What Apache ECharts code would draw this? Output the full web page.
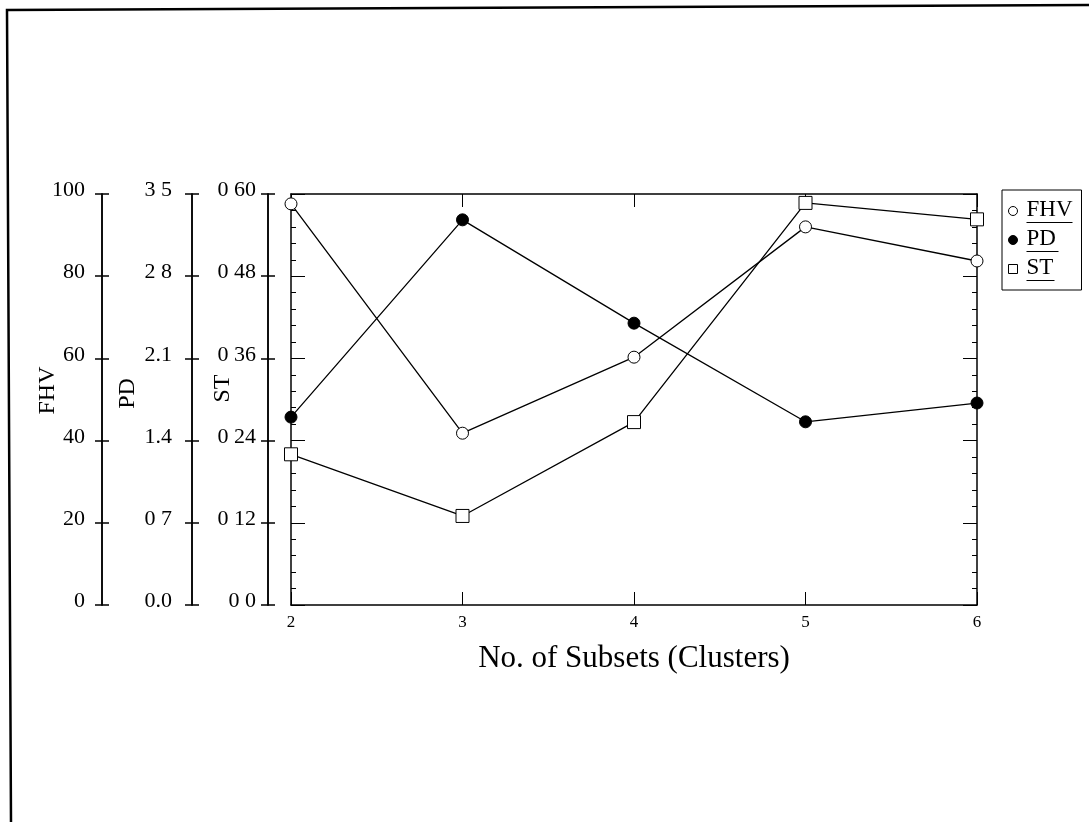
<!DOCTYPE html>
<html>
<head>
<meta charset="utf-8">
<script src="https://cdn.jsdelivr.net/npm/echarts@6/dist/echarts.min.js"></script>
<style>
html,body{margin:0;padding:0;background:#fff;}
#c{width:1089px;height:822px;}
</style>
</head>
<body>
<div id="c"></div>
<script>
// ---- data ----
var xValues = [2, 3, 4, 5, 6];
var fhv = [97.6, 41.8, 60.3, 92.0, 83.7];
var pd = [1.60, 3.28, 2.40, 1.56, 1.72];
var st = [0.220, 0.130, 0.267, 0.587, 0.563];
var fhvTicks = ['0', '20', '40', '60', '80', '100'];
var pdTicks = ['0.0', '0 7', '1.4', '2.1', '2 8', '3 5'];
var stTicks = ['0 0', '0 12', '0 24', '0 36', '0 48', '0 60'];
var xTicks = ['2', '3', '4', '5', '6'];

var FONT = 'Liberation Serif';
var BLACK = '#000';

function pairs(vals) { return xValues.map(function (x, i) { return [x, vals[i]]; }); }

function leftAxis(offset, min, max, interval, ticks, name, nameGap, labelMargin, inside, nameShift) {
  var ax = {
    type: 'value', position: 'left', offset: offset,
    min: min, max: max, interval: interval,
    gridIndex: 0,
    splitLine: { show: false },
    axisLine: { show: true, lineStyle: { color: BLACK, width: 1.5 } },
    axisTick: { show: true, inside: inside, length: 7, lineStyle: { color: BLACK, width: 1.5 } },
    axisLabel: { show: false }
  };
  if (!inside) {
    ax.name = name;
    ax.nameLocation = 'middle';
    ax.nameGap = nameGap;
    ax.nameRotate = 90;
    ax.nameMoveOverlap = false;
    ax.nameTextStyle = { fontFamily: FONT, fontSize: 24, color: BLACK, padding: [0, 0, 0, nameShift] };
    ax.axisLabel = {
      show: true, margin: labelMargin,
      fontFamily: FONT, fontSize: 22, color: BLACK,
      verticalAlign: 'bottom', lineHeight: 7,
      formatter: function (v) {
        var k = Math.round((v - min) / interval);
        return ticks[k];
      }
    };
  }
  return ax;
}

function frameAxis(pos) {
  return {
    type: 'value', position: pos, offset: 0,
    min: 0, max: 100, interval: 20, splitNumber: 5,
    splitLine: { show: false },
    axisLine: { show: true, lineStyle: { color: BLACK, width: 1.5 } },
    axisTick: { show: true, inside: true, length: 14, lineStyle: { color: BLACK, width: 1 } },
    minorTick: { show: true, splitNumber: 5, length: 5, lineStyle: { color: BLACK, width: 1 } },
    axisLabel: { show: false }
  };
}

var underlineW = { FHV: 46, PD: 32, ST: 28 };

var chart = echarts.init(document.getElementById('c'), null, { renderer: 'canvas' });
chart.setOption({
  backgroundColor: '#fff',
  animation: false,
  textStyle: { fontFamily: FONT },
  grid: { left: 291, right: 112, top: 194, bottom: 217, containLabel: false, outerBoundsMode: 'none' },
  xAxis: [
    {
      type: 'value', position: 'bottom', min: 2, max: 6, interval: 1,
      splitLine: { show: false },
      axisLine: { show: true, onZero: false, lineStyle: { color: BLACK, width: 1.5 } },
      axisTick: { show: true, inside: true, length: 13, lineStyle: { color: BLACK, width: 1 } },
      axisLabel: {
        show: true, margin: 9, fontFamily: FONT, fontSize: 17, color: BLACK,
        formatter: function (v) { return xTicks[xValues.indexOf(v)]; }
      },
      name: 'No. of Subsets (Clusters)', nameLocation: 'middle', nameGap: 38,
      nameTextStyle: { fontFamily: FONT, fontSize: 31, color: BLACK }
    },
    {
      type: 'value', position: 'top', min: 2, max: 6, interval: 1,
      splitLine: { show: false },
      axisLine: { show: true, onZero: false, lineStyle: { color: BLACK, width: 1.5 } },
      axisTick: { show: true, inside: true, length: 13, lineStyle: { color: BLACK, width: 1 } },
      axisLabel: { show: false }
    }
  ],
  yAxis: [
    leftAxis(189, 0, 100, 20, fhvTicks, 'FHV', 42, 17, false, 18),
    leftAxis(189, 0, 100, 20, fhvTicks, '', 0, 0, true, 0),
    leftAxis(99, 0, 3.5, 0.7, pdTicks, 'PD', 52, 20, false, 12),
    leftAxis(99, 0, 3.5, 0.7, pdTicks, '', 0, 0, true, 0),
    leftAxis(23, 0, 0.6, 0.12, stTicks, 'ST', 33, 12, false, 22),
    leftAxis(23, 0, 0.6, 0.12, stTicks, '', 0, 0, true, 0),
    frameAxis('left'),
    frameAxis('right')
  ],
  legend: {
    orient: 'vertical', left: 1002, top: 190,
    itemWidth: 9, itemHeight: 9, itemGap: 4,
    borderColor: BLACK, borderWidth: 1, borderRadius: 0,
    padding: [8, 9, 9, 6],
    data: [
      { name: 'FHV', icon: 'circle', itemStyle: { color: '#fff', borderColor: BLACK, borderWidth: 1 } },
      { name: 'PD', icon: 'circle', itemStyle: { color: BLACK, borderColor: BLACK, borderWidth: 1 } },
      { name: 'ST', icon: 'rect', itemStyle: { color: '#fff', borderColor: BLACK, borderWidth: 1 } }
    ],
    formatter: function (name) { return '{n|' + name + '}\n{s| }{u' + name + '| }'; },
    textStyle: {
      color: BLACK, fontFamily: FONT, fontSize: 23,
      rich: {
        n: { fontFamily: FONT, fontSize: 23, lineHeight: 23, color: BLACK, padding: [0, 0, 0, 4] },
        s: { width: 4, height: 1, lineHeight: 3, fontSize: 1 },
        uFHV: { width: underlineW.FHV, height: 1, lineHeight: 3, fontSize: 1, backgroundColor: BLACK },
        uPD: { width: underlineW.PD, height: 1, lineHeight: 3, fontSize: 1, backgroundColor: BLACK },
        uST: { width: underlineW.ST, height: 1, lineHeight: 3, fontSize: 1, backgroundColor: BLACK }
      }
    }
  },
  graphic: [
    {
      type: 'polyline', silent: true,
      shape: { points: [[11, 822], [7, 10], [1089, 5]] },
      style: { stroke: BLACK, lineWidth: 2.5, fill: null }
    }
  ],
  series: [
    {
      name: 'FHV', type: 'line', xAxisIndex: 0, yAxisIndex: 0, data: pairs(fhv),
      symbol: 'circle', symbolSize: 12, showAllSymbol: true,
      lineStyle: { color: BLACK, width: 1.3 },
      itemStyle: { color: '#fff', borderColor: BLACK, borderWidth: 1 },
      z: 3
    },
    {
      name: 'PD', type: 'line', xAxisIndex: 0, yAxisIndex: 2, data: pairs(pd),
      symbol: 'circle', symbolSize: 12, showAllSymbol: true,
      lineStyle: { color: BLACK, width: 1.3 },
      itemStyle: { color: BLACK, borderColor: BLACK, borderWidth: 1 },
      z: 3
    },
    {
      name: 'ST', type: 'line', xAxisIndex: 0, yAxisIndex: 4, data: pairs(st),
      symbol: 'rect', symbolSize: 13, showAllSymbol: true,
      lineStyle: { color: BLACK, width: 1.3 },
      itemStyle: { color: '#fff', borderColor: BLACK, borderWidth: 1 },
      z: 3
    }
  ]
});
</script>
</body>
</html>
